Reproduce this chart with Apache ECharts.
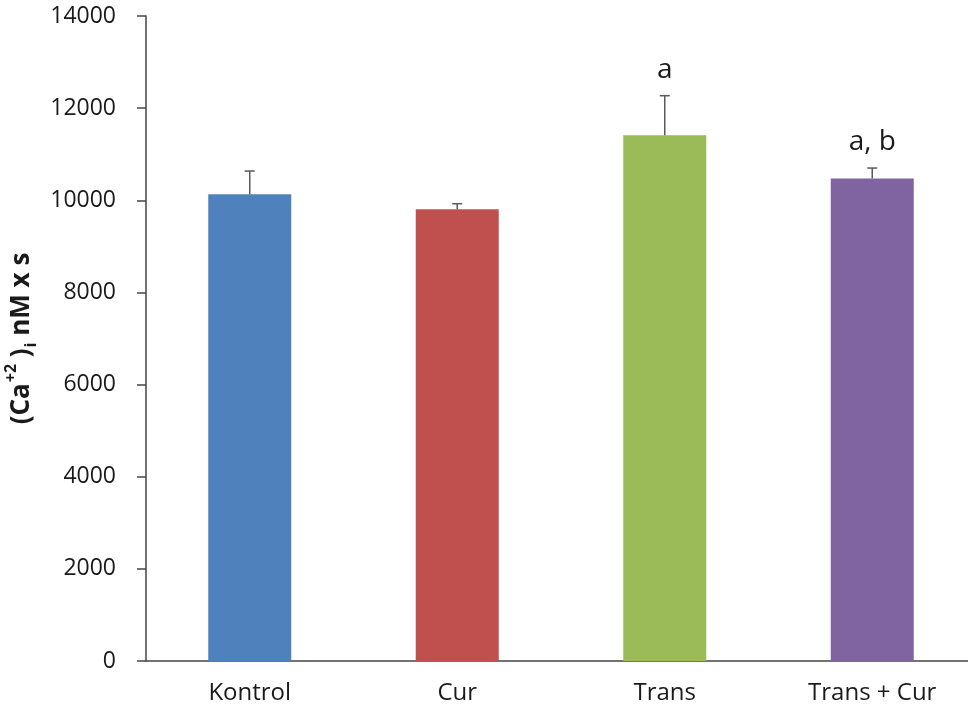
<!DOCTYPE html>
<html>
<head>
<meta charset="utf-8">
<script src="https://cdn.jsdelivr.net/npm/echarts@6/dist/echarts.min.js"></script>
<style>
  html, body { margin: 0; padding: 0; background: #ffffff; }
  #chart { width: 968px; height: 716px; }
</style>
</head>
<body>
<div id="chart"></div>
<script>
// Groups, mean (Ca2+)i area values, standard errors and significance letters
const categories = ['Kontrol', 'Cur', 'Trans', 'Trans + Cur'];
const means = [10130, 9805, 11410, 10475];
const errors = [505, 120, 860, 225];
const letters = ['', '', 'a', 'a, b'];
const barColors = ['#4F81BD', '#C0504D', '#9BBB59', '#8064A2'];
const yTicks = { min: 0, max: 14000, interval: 2000 };

const axisColor = '#454545';
const fontFamily = '"Open Sans", "Noto Sans", sans-serif';

const chart = echarts.init(document.getElementById('chart'), null, { renderer: 'canvas' });

const option = {
  backgroundColor: '#ffffff',
  animation: false,
  grid: { left: 146, top: 16, width: 830, height: 645, containLabel: false, outerBoundsMode: 'none' },
  xAxis: {
    type: 'category',
    data: categories,
    axisLine: { show: true, lineStyle: { color: axisColor, width: 1.5 } },
    axisTick: { show: false },
    axisLabel: { color: '#1a1a1a', fontSize: 24, fontFamily: fontFamily, margin: 20 },
    splitLine: { show: false }
  },
  yAxis: {
    type: 'value',
    min: yTicks.min,
    max: yTicks.max,
    interval: yTicks.interval,
    axisLine: { show: true, lineStyle: { color: axisColor, width: 1.5 } },
    axisTick: { show: true, inside: false, length: 9, lineStyle: { color: axisColor, width: 1.5 } },
    axisLabel: {
      color: '#1a1a1a', fontSize: 23, fontFamily: fontFamily, margin: 30,
      formatter: function (v) { return String(v); }
    },
    splitLine: { show: false },
    name: '{n|(Ca}{sup|+2}{n| )}{sub|i}{n| nM x s}',
    nameLocation: 'middle',
    nameRotate: 90,
    nameGap: 99,
    nameTextStyle: {
      rich: {
        n: { fontSize: 26, fontWeight: 'bold', color: '#1a1a1a', fontFamily: fontFamily, lineHeight: 36 },
        sup: { fontSize: 16, fontWeight: 'bold', color: '#1a1a1a', fontFamily: fontFamily, verticalAlign: 'top', lineHeight: 36, padding: [0, 0, 12, 1] },
        sub: { fontSize: 16, fontWeight: 'bold', color: '#1a1a1a', fontFamily: fontFamily, verticalAlign: 'bottom', lineHeight: 36, padding: [10, 0, 0, 1] }
      }
    }
  },
  series: [
    {
      type: 'bar',
      barWidth: '40%',
      data: means.map((v, i) => ({ value: v, itemStyle: { color: barColors[i] } })),
      z: 2
    },
    {
      // Upper error bars with caps and significance letters
      type: 'custom',
      data: means.map((v, i) => [i, v, errors[i]]),
      z: 3,
      renderItem: function (params, api) {
        const i = api.value(0);
        const base = api.coord([i, api.value(1)]);
        const top = api.coord([i, api.value(1) + api.value(2)]);
        const cap = 5;
        const style = { stroke: '#5a5a5a', lineWidth: 1.5 };
        const children = [
          { type: 'line', shape: { x1: base[0], y1: base[1], x2: top[0], y2: top[1] }, style: style },
          { type: 'line', shape: { x1: top[0] - cap, y1: top[1], x2: top[0] + cap, y2: top[1] }, style: style }
        ];
        const letter = letters[params.dataIndex];
        if (letter) {
          children.push({
            type: 'text',
            style: {
              x: top[0], y: top[1] - 26,
              text: letter,
              fill: '#1a1a1a',
              font: '28px ' + fontFamily,
              align: 'center',
              verticalAlign: 'middle'
            }
          });
        }
        return { type: 'group', children: children };
      }
    }
  ]
};

chart.setOption(option);
</script>
</body>
</html>
